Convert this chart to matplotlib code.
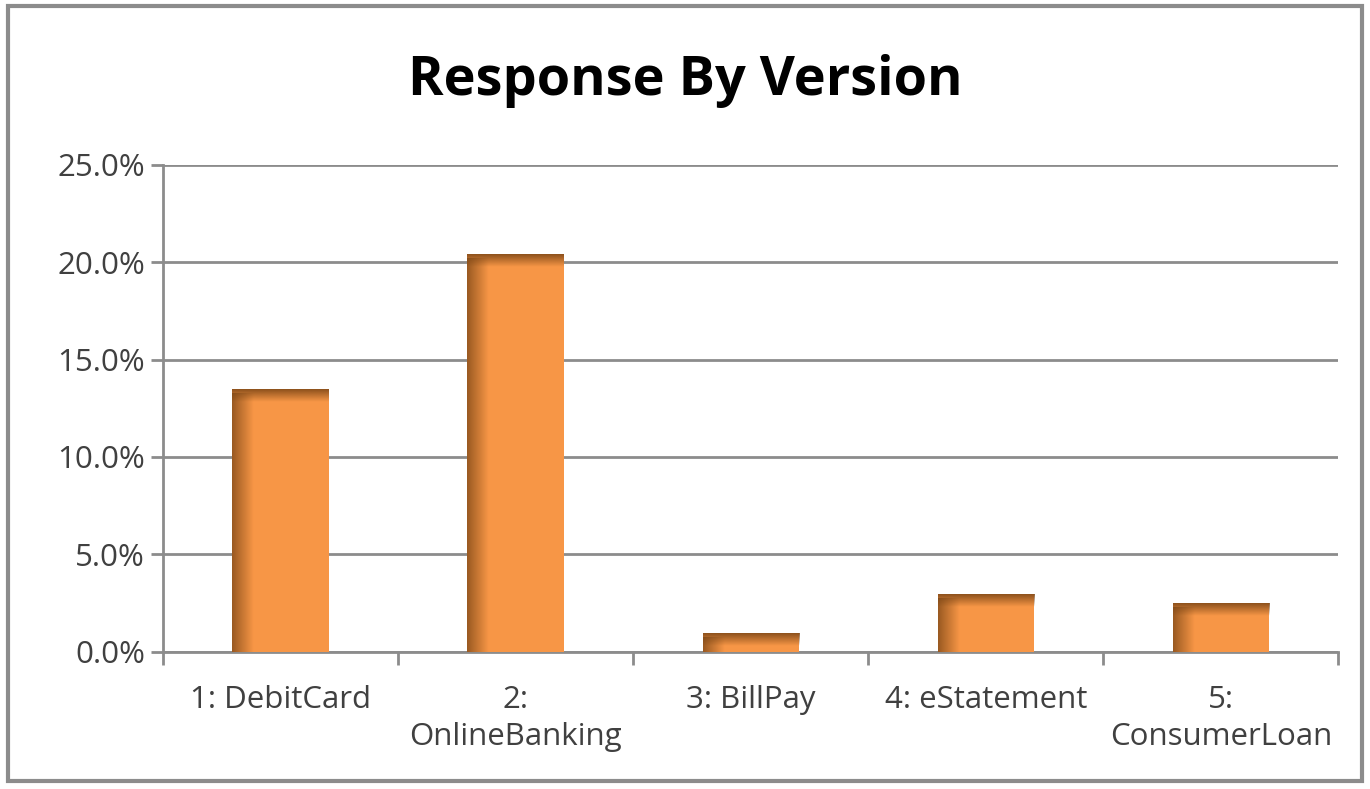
import numpy as np
import matplotlib.pyplot as plt
from matplotlib.patches import Rectangle
from matplotlib.colors import to_rgb

categories = ["1: DebitCard", "2:\nOnlineBanking", "3: BillPay", "4: eStatement", "5:\nConsumerLoan"]
response = [13.5, 20.4, 0.95, 2.95, 2.5]
y_ticks = [0, 5, 10, 15, 20, 25]
y_labels = ["0.0%", "5.0%", "10.0%", "15.0%", "20.0%", "25.0%"]

plt.rcParams['font.family'] = ['Open Sans', 'DejaVu Sans']

fig = plt.figure(figsize=(13.7, 7.89), dpi=100)
fig.patches.append(Rectangle((0.006, 0.01), 0.988, 0.982, transform=fig.transFigure,
                             fill=False, edgecolor='#8c8c8c', linewidth=3))
ax = fig.add_axes([0.119, 0.174, 0.858, 0.617])

x = np.arange(len(categories))
width = 0.41
bar_col = '#F79646'
dark = np.array(to_rgb('#7a4515'))

ax.bar(x, response, width=width, color=bar_col, zorder=3)

# bevel shading on top and left of each bar
px_per_val = 0.617 * 789 / 25.0
for xi, v in zip(x, response):
    left = xi - width / 2
    top_h = min(13 / px_per_val, v)
    g = np.linspace(0.85, 0.0, 32)[:, None]
    img = np.zeros((32, 2, 4))
    img[..., :3] = dark
    img[..., 3] = g
    ax.imshow(img, extent=(left, left + width, v - top_h, v), aspect='auto',
              zorder=4, interpolation='bilinear')
    lw_ = 0.09
    g2 = np.linspace(0.75, 0.0, 32)[None, :]
    img2 = np.zeros((2, 32, 4))
    img2[..., :3] = dark
    img2[..., 3] = g2
    ax.imshow(img2, extent=(left, left + lw_, 0, v - top_h * 0.3), aspect='auto',
              zorder=4, interpolation='bilinear')

ax.set_xlim(-0.5, len(categories) - 0.5)
ax.set_ylim(0, 25)
ax.set_yticks(y_ticks)
ax.set_yticklabels(y_labels, fontsize=22.5, color='#404040')
ax.yaxis.grid(True, color='#8c8c8c', linewidth=2, zorder=0)
ax.set_axisbelow(True)

ax.set_xticks(np.arange(-0.5, len(categories), 1.0))
ax.set_xticklabels([])
ax.set_xticks(x, minor=True)
ax.set_xticklabels(categories, minor=True, fontsize=22.5, color='#404040', linespacing=1.3)
ax.tick_params(axis='x', which='minor', length=0, pad=24)
ax.tick_params(axis='x', which='major', length=9, width=2, color='#8c8c8c', direction='out')
ax.tick_params(axis='y', length=9, width=2, color='#8c8c8c', pad=4)

for s in ['top', 'right']:
    ax.spines[s].set_visible(False)
for s in ['left', 'bottom']:
    ax.spines[s].set_color('#8c8c8c')
    ax.spines[s].set_linewidth(2)

fig.text(0.5, 0.897, "Response By Version", ha='center', va='center',
         fontsize=39, fontweight='bold', color='black')

fig.savefig("out.png", dpi=100)
